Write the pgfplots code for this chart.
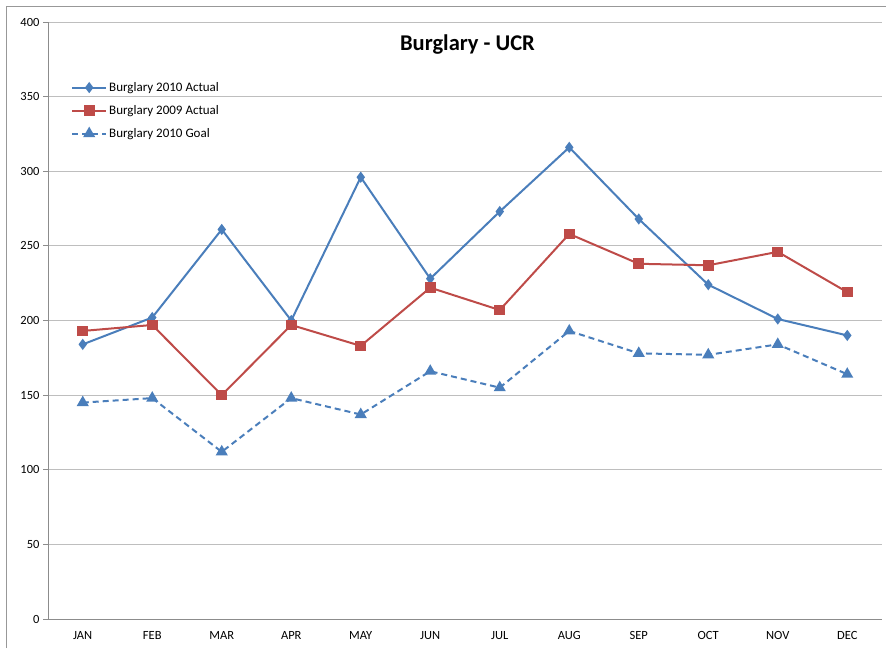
\documentclass[border=0pt]{standalone}
\usepackage{fontspec}
\setmainfont{Carlito}
\usepackage{pgfplots}
\pgfplotsset{compat=1.18}
\definecolor{actual10}{HTML}{4A7EBB}
\definecolor{actual09}{HTML}{BE4B48}
\definecolor{gridc}{HTML}{BEBEBE}
\definecolor{axc}{HTML}{8C8C8C}
\begin{document}
\begin{tikzpicture}
\useasboundingbox (-48pt,-29pt) rectangle (838pt,619pt);
% chart frame (left and top edges visible)
\draw[gridc!80!black, line width=1pt] (-41pt,-29pt) -- (-41pt,612pt) -- (838pt,612pt);
\begin{axis}[
  scale only axis,
  width=834pt,
  height=597pt,
  xmin=-0.5, xmax=11.5,
  ymin=0, ymax=400,
  axis x line=bottom,
  axis y line=left,
  axis line style={axc, line width=0.8pt, -},
  xtick={0,...,11},
  xticklabels={JAN,FEB,MAR,APR,MAY,JUN,JUL,AUG,SEP,OCT,NOV,DEC},
  ytick={0,50,...,400},
  ymajorgrids,
  grid style={gridc, line width=0.8pt},
  tick align=outside,
  major tick length=5pt,
  xtick style={draw=none},
  ytick style={axc, line width=0.8pt},
  /pgf/number format/assume math mode=true,
  xticklabel style={font=\fontsize{12.5}{14}\selectfont, yshift=-4pt},
  yticklabel style={font=\fontsize{12.5}{14}\selectfont},
  title={Burglary - UCR},
  title style={font=\fontsize{22.5}{26}\selectfont\bfseries, at={(0.503,0.953)}, anchor=center},
  legend cell align=left,
  legend style={draw=none, fill=none, font=\fontsize{13}{15}\selectfont,
    at={(0.024,0.906)}, anchor=north west, row sep=8.5pt},
  legend image code/.code={\draw[mark repeat=2,mark phase=2] plot coordinates {(0pt,0pt) (17pt,0pt) (34pt,0pt)};},
]
\addplot[actual10, line width=2pt, mark=diamond*, mark size=4pt, mark options={solid}]
  coordinates {(0,184) (1,202) (2,261) (3,200) (4,296) (5,228) (6,273) (7,316) (8,268) (9,224) (10,201) (11,190)};
\addlegendentry{Burglary 2010 Actual}
\addplot[actual09, line width=2pt, mark=square*, mark size=4.3pt, mark options={solid}]
  coordinates {(0,193) (1,197) (2,150) (3,197) (4,183) (5,222) (6,207) (7,258) (8,238) (9,237) (10,246) (11,219)};
\addlegendentry{Burglary 2009 Actual}
\addplot[actual10, line width=2pt, dash pattern=on 6pt off 4pt, mark=triangle*, mark size=5pt, mark options={solid}]
  coordinates {(0,145) (1,148) (2,112) (3,148) (4,137) (5,166) (6,155) (7,193) (8,178) (9,177) (10,184) (11,164)};
\addlegendentry{Burglary 2010 Goal}
\end{axis}
\end{tikzpicture}
\end{document}
